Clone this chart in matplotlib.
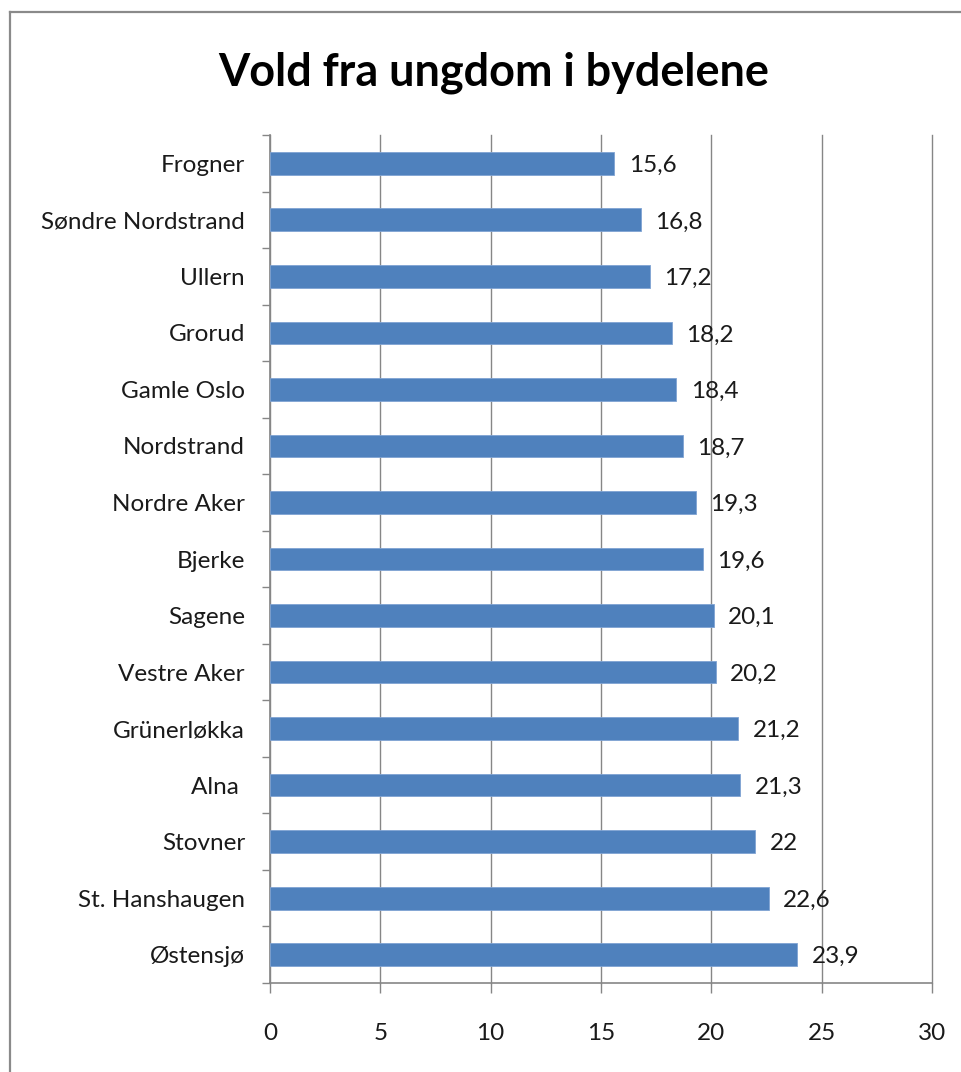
import matplotlib
matplotlib.use("Agg")
import matplotlib.pyplot as plt
from matplotlib.lines import Line2D

categories = ["Frogner", "Søndre Nordstrand", "Ullern", "Grorud", "Gamle Oslo",
              "Nordstrand", "Nordre Aker", "Bjerke", "Sagene", "Vestre Aker",
              "Grünerløkka", "Alna ", "Stovner", "St. Hanshaugen", "Østensjø"]
values = [15.6, 16.8, 17.2, 18.2, 18.4, 18.7, 19.3, 19.6, 20.1, 20.2,
          21.2, 21.3, 22.0, 22.6, 23.9]
value_labels = ["15,6", "16,8", "17,2", "18,2", "18,4", "18,7", "19,3", "19,6",
                "20,1", "20,2", "21,2", "21,3", "22", "22,6", "23,9"]
x_ticks = [0, 5, 10, 15, 20, 25, 30]
title = "Vold fra ungdom i bydelene"

plt.rcParams['font.family'] = ['Lato', 'DejaVu Sans']

W, H = 962, 1072
fig = plt.figure(figsize=(W / 100, H / 100), dpi=100)
fig.patch.set_facecolor("white")

ax = fig.add_axes([270 / W, 1 - 983 / H, (932 - 270) / W, (983 - 135) / H])

pos = list(range(len(categories)))
ax.barh(pos, values, height=0.4, color="#4F81BD", edgecolor="#7FA3D3",
        linewidth=0.6, zorder=3)

for p, v, lab in zip(pos, values, value_labels):
    ax.annotate(lab, xy=(v, p), xytext=(10.5, -1.5), textcoords="offset points",
                ha="left", va="center", fontsize=17.5, color="#1a1a1a", zorder=4)

ax.set_xlim(0, 30)
ax.set_ylim(len(categories) - 0.5, -0.5)
ax.set_xticks(x_ticks)
ax.set_xticklabels([str(t) for t in x_ticks], fontsize=17.5, color="#1a1a1a")
ax.set_yticks(pos)
ax.set_yticklabels(categories, fontsize=17.5, color="#1a1a1a")
ax.tick_params(axis="y", which="major", length=0, pad=18)
ax.set_yticks([p - 0.5 for p in pos] + [len(pos) - 0.5], minor=True)
ax.tick_params(axis="y", which="minor", length=6, width=1, color="#868686", direction="out")
ax.tick_params(axis="x", which="major", length=7, width=1, color="#868686",
               direction="out", pad=22)

ax.grid(axis="x", color="#868686", linewidth=1, zorder=0)
for gl in ax.get_xgridlines():
    gl.set_clip_on(False)
ax.set_axisbelow(True)
for s in ["top", "right"]:
    ax.spines[s].set_visible(False)
for s in ["left", "bottom"]:
    ax.spines[s].set_color("#868686")
    ax.spines[s].set_linewidth(1.2)

fig.text(494 / W, 1 - 73 / H, title, ha="center", va="center",
         fontsize=32.4, fontweight="bold", color="black")

# outer chart frame
fig.add_artist(Line2D([10 / W, 10 / W], [0, 1 - 12 / H], color="#8a8a8a", linewidth=1.6))
fig.add_artist(Line2D([10 / W, 1], [1 - 12 / H, 1 - 12 / H], color="#8a8a8a", linewidth=1.6))

fig.savefig("out.png", dpi=100, facecolor="white")
